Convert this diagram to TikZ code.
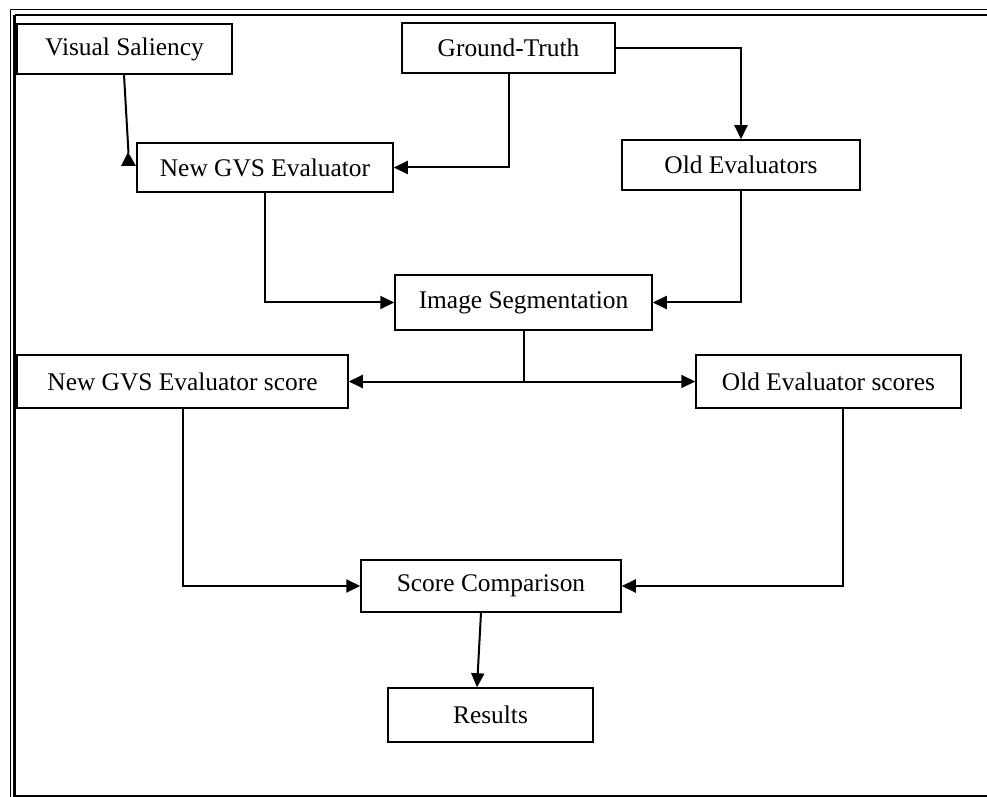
\documentclass[tikz,border=0pt]{standalone}
\usepackage{fontspec}
\setmainfont{Liberation Serif}
\usetikzlibrary{arrows.meta}
\begin{document}
\begin{tikzpicture}[x=0.5pt,y=-0.5pt,
  box/.style={draw,line width=0.75pt,inner sep=0pt,font=\fontsize{12.7}{15}\selectfont},
  conn/.style={line width=1pt},
  arr/.style={conn,-{Triangle[length=7pt,width=6.5pt]}}]
\useasboundingbox (0,0) rectangle (987,797);
% border
\draw[line width=0.5pt] (10,10) -- (987,10);
\draw[line width=1.3pt] (14.5,15) -- (987,15);
\draw[line width=0.5pt] (10,10) -- (10,797);
\draw[line width=1.3pt] (14.5,15) -- (14.5,797);
\draw[line width=0.8pt] (16,796) -- (987,796);
% nodes
\node[box,minimum width=107.5pt,minimum height=25pt] (vs) at (124.5,49) {Visual Saliency};
\node[box,minimum width=106.5pt,minimum height=25pt] (gt) at (508.5,48) {Ground-Truth};
\node[box,minimum width=128pt,minimum height=24.5pt] (ngvs) at (265,167.5) {New GVS Evaluator};
\node[box,minimum width=119pt,minimum height=25pt] (old) at (741,165) {Old Evaluators};
\node[box,minimum width=128.5pt,minimum height=27.5pt] (seg) at (523.5,302.5) {Image Segmentation};
\node[box,minimum width=165.5pt,minimum height=26.5pt] (ngs) at (182.5,381.5) {New GVS Evaluator score};
\node[box,minimum width=132.5pt,minimum height=26.5pt] (ogs) at (828.5,381.5) {Old Evaluator scores};
\node[box,minimum width=130pt,minimum height=26pt] (sc) at (491,586) {Score Comparison};
\node[box,minimum width=102.5pt,minimum height=27pt] (res) at (490.5,715) {Results};
\coordinate (vstip) at (128.5,153);
% connectors
\draw[conn] (vs.south -| 124,0) -- (vstip);
\fill (128,152) -- (121,166) -- (136,166) -- cycle;
\draw[arr] (gt.south) |- (ngvs.east);
\draw[arr] (gt.east) -| (old.north);
\draw[arr] (ngvs.south) |- (seg.west);
\draw[arr] (old.south) |- (seg.east);
\draw[conn] (seg.south) -- (seg.south |- ngs.east) coordinate (j);
\draw[arr] (j) -- (ngs.east);
\draw[arr] (j) -- (ogs.west);
\draw[arr] (ngs.south) |- (sc.west);
\draw[arr] (ogs.south -| 843,0) |- (sc.east);
\draw[arr] (sc.south -| 481,0) -- (res.north -| 477,0);
\end{tikzpicture}
\end{document}
